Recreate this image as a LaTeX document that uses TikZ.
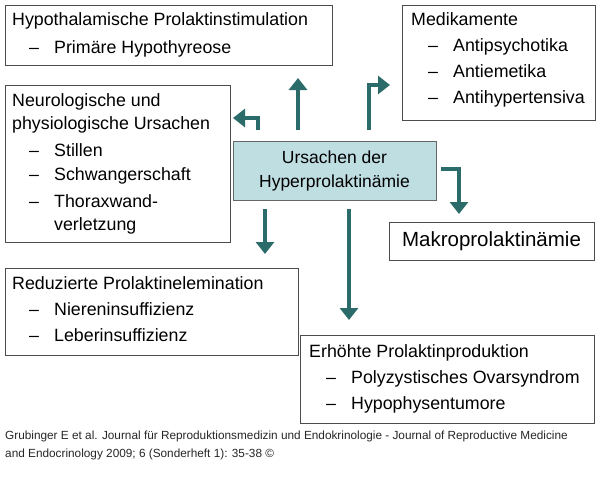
\documentclass[tikz,border=0pt]{standalone}
\usepackage{fontspec}
\setmainfont{Liberation Sans}
\usetikzlibrary{arrows.meta}
\definecolor{arr}{HTML}{2B6B6A}
\definecolor{cfill}{HTML}{BFDEE2}
\newcommand{\itm}{\hspace*{17pt}\makebox[25pt][l]{–}}
\begin{document}
\begin{tikzpicture}[x=1pt,y=-1pt,
  box/.style={draw=black!70,line width=0.6pt,fill=white},
  txt/.style={anchor=north west,inner sep=0pt,font=\fontsize{17.8}{23}\selectfont,align=left},
  arrw/.style={draw=arr,line width=3.5pt,-{Triangle[length=12pt,width=18pt]}}]
\useasboundingbox (0,0) rectangle (600,485);
% boxes
\draw[box] (5,5) rectangle (332,65);
\node[txt] (t1) at (12,12) {Hypothalamische Prolaktinstimulation\\[5pt]\itm Primäre Hypothyreose};
\draw[box] (402,5) rectangle (595,120);
\node[txt] (t2) at (411,12) {Medikamente\\[3pt]\itm Antipsychotika\\[3pt]\itm Antiemetika\\[3pt]\itm Antihypertensiva};
\draw[box] (5,85) rectangle (230,242);
\node[txt] (t3) at (12,93) {Neurologische und\\physiologische Ursachen\\[4pt]\itm Stillen\\[1pt]\itm Schwangerschaft\\[4pt]\itm Thoraxwand-\\\hspace*{42pt}verletzung};
\draw[box] (389,222) rectangle (594,260);
\node[inner sep=0pt,font=\fontsize{20.5}{22}\selectfont] (t4) at (491.5,241) {Makroprolaktinämie};
\draw[box] (5,268) rectangle (298,355);
\node[txt] (t5) at (12,276) {Reduzierte Prolaktinelemination\\[3pt]\itm Niereninsuffizienz\\[3pt]\itm Leberinsuffizienz};
\draw[box] (300,335) rectangle (594,423);
\node[txt] (t6) at (309,344) {Erhöhte Prolaktinproduktion\\[3pt]\itm Polyzystisches Ovarsyndrom\\[3pt]\itm Hypophysentumore};
% center
\node[draw=black!60,fill=cfill,line width=0.6pt,minimum width=203pt,minimum height=59pt,inner sep=0pt,align=center,font=\fontsize{17.5}{24}\selectfont] (c) at (334.5,170.5) {Ursachen der\\Hyperprolaktinämie};
% arrows
\coordinate (a1s) at (298,130); \coordinate (a1e) at (298,78);
\draw[arrw] (a1s) -- (a1e);
\coordinate (a2s) at (369,130); \coordinate (a2e) at (390,85);
\draw[arrw] (a2s) |- (a2e);
\coordinate (a3s) at (258,130); \coordinate (a3e) at (233,118);
\draw[arrw] (a3s) |- (a3e);
\coordinate (a4s) at (441,169); \coordinate (a4e) at (459,214);
\draw[arrw] (a4s) -| (a4e);
\coordinate (a5s) at (265,209); \coordinate (a5e) at (265,254);
\draw[arrw] (a5s) -- (a5e);
\coordinate (a6s) at (349,209); \coordinate (a6e) at (349,320);
\draw[arrw] (a6s) -- (a6e);
% caption
\node[anchor=north west,inner sep=0pt,align=left,font=\fontsize{11.8}{18}\selectfont,text=black!85] (cap) at (5,431) {Grubinger E et al. Journal für Reproduktionsmedizin und Endokrinologie - Journal of Reproductive Medicine\\and Endocrinology 2009; 6 (Sonderheft 1): 35-38 ©};
\end{tikzpicture}
\end{document}
